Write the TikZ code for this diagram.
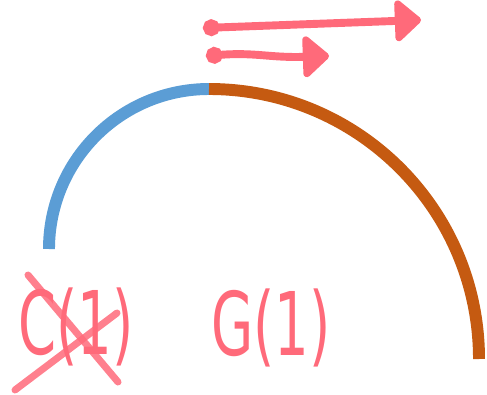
\documentclass[tikz,border=0pt]{standalone}
\usepackage{fontspec}
\setmainfont{DejaVu Sans}
\usetikzlibrary{
    arrows.meta,
    positioning,
    calc
}
\definecolor{penred}{RGB}{255,106,122}
\definecolor{arcblue}{RGB}{91,157,213}
\definecolor{arcorange}{RGB}{197,90,17}
\tikzset{
    % --- Thick arc segment ---
    arc part/.style = {
        line width=6.8pt
    },
    % --- Pen stroke (hand-drawn marks) ---
    pen/.style = {
        draw=penred, line width=4.5pt,
        line cap=round, line join=round
    },
    % --- Pen arrow with dot at its tail ---
    pen arrow/.style = {
        pen,
        {Circle[length=9.5pt, fill=penred]}-{Triangle[length=16pt, width=27pt, round, fill=penred]}
    },
    % --- Hand-written label ---
    hand/.style = {
        text=penred, inner sep=0pt, xscale=0.62,
        font=\fontsize{50}{50}\selectfont
    }
}

\begin{document}
\begin{tikzpicture}[x=0.02cm, y=-0.02cm]

\useasboundingbox (0,0) rectangle (487,395);

% ---------------------------------------------------------
% 1. The two arcs
% ---------------------------------------------------------
\coordinate (ArcStart) at (49,249);
\draw[arc part, arcblue] (ArcStart)
    arc[start angle=180, end angle=270, radius=160] coordinate (ArcTop);
\draw[arc part, arcorange] (ArcTop)
    arc[start angle=270, end angle=360, radius=270] coordinate (ArcEnd);

% ---------------------------------------------------------
% 2. Arrows (top)
% ---------------------------------------------------------
\coordinate (LongTail)  at (203,28);
\coordinate (LongHead)  at (421,20);
\coordinate (ShortTail) at (206,56);
\coordinate (ShortHead) at (329,56);

\draw[pen arrow] (LongTail) -- (LongHead);
\draw[pen arrow] (ShortTail) .. controls (255,52) and (270,58) .. (ShortHead);

% ---------------------------------------------------------
% 3. Labels
% ---------------------------------------------------------
\node[hand] (Crossed) at (76,327) {C(1)};
\node[hand] (Kept)    at (271,328) {G(1)};

% Cross over the first label
\coordinate (CrossA) at (28,275);
\coordinate (CrossB) at (118,382);
\coordinate (CrossC) at (15,390);
\coordinate (CrossD) at (117,313);
\draw[pen, line width=4pt, opacity=0.85] (CrossA) -- (CrossB);
\draw[pen, line width=4pt, opacity=0.85] (CrossC) -- (CrossD);

\end{tikzpicture}
\end{document}
